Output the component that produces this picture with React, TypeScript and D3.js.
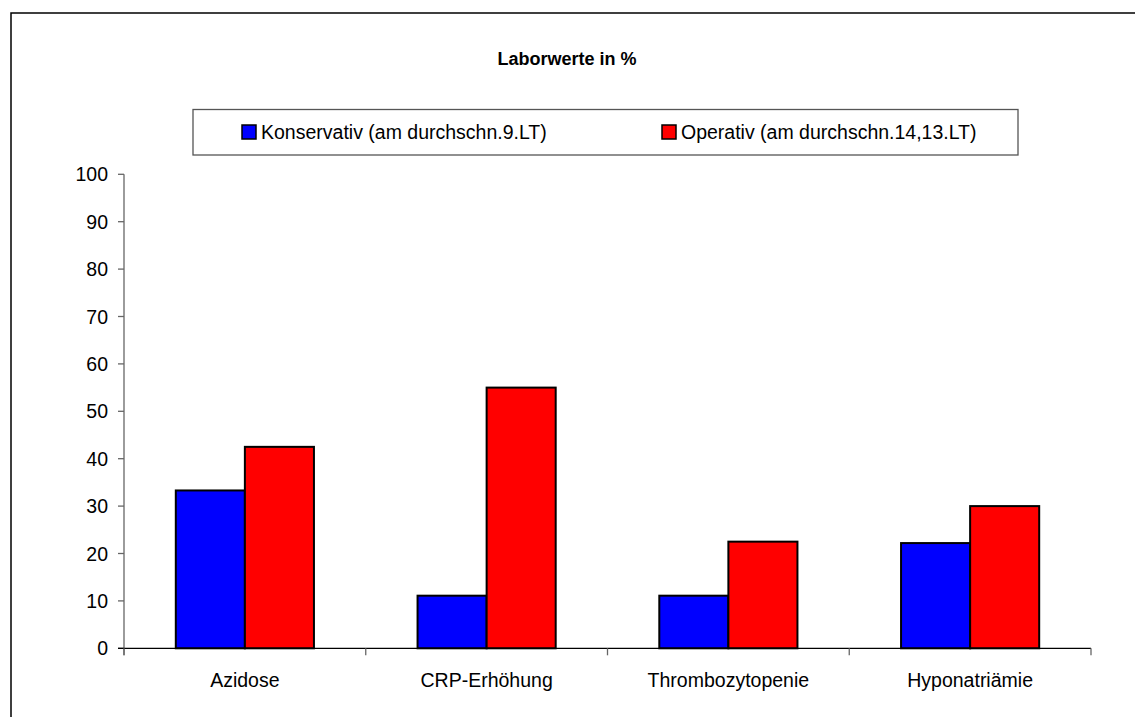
import React from "react";
import * as d3 from "d3";

const categories = ["Azidose", "CRP-Erhöhung", "Thrombozytopenie", "Hyponatriämie"];
const seriesNames = ["Konservativ (am durchschn.9.LT)", "Operativ (am durchschn.14,13.LT)"];
const konservativ = [33.3, 11.1, 11.1, 22.2];
const operativ = [42.5, 55.0, 22.5, 30.0];
const yTicks = [0, 10, 20, 30, 40, 50, 60, 70, 80, 90, 100];
const colors = ["#0000FF", "#FF0000"];
const title = "Laborwerte in %";

const W = 1135;
const H = 717;
const left = 124;
const right = 1091;
const top = 174.3;
const bottom = 648.3;
const FONT = "'Liberation Sans', Arial, sans-serif";

export default function App() {
  const x = d3.scaleBand<string>().domain(categories).range([left, right]).paddingInner(0).paddingOuter(0);
  const y = d3.scaleLinear().domain([0, 100]).range([bottom, top]);
  const bw = x.bandwidth() / 3.5;
  const series = [konservativ, operativ];
  const boundaries = [left, ...categories.map((c) => (x(c) as number) + x.bandwidth())];

  return (
    <div style={{ position: "absolute", left: 0, top: 0 }}>
      <svg width={W} height={H} style={{ display: "block" }}>
        <rect x={0} y={0} width={W} height={H} fill="#fff" />
        <path d={`M11,${H + 5}V13H${W + 5}`} fill="none" stroke="#000" strokeWidth={1.5} />
        <text x={567} y={65} textAnchor="middle" fontFamily={FONT} fontWeight="bold" fontSize={18} fill="#000">
          {title}
        </text>
        {/* legend */}
        <rect x={193} y={109.5} width={825} height={45.5} fill="#fff" stroke="#555" strokeWidth={1.3} />
        {seriesNames.map((name, i) => {
          const lx = i === 0 ? 242 : 662;
          return (
            <g key={name}>
              <rect x={lx} y={125} width={14} height={14} fill={colors[i]} stroke="#000" strokeWidth={1.5} />
              <text x={lx + 19} y={139} fontFamily={FONT} fontSize={19.5} fill="#000">
                {name}
              </text>
            </g>
          );
        })}
        {/* y axis */}
        <line x1={left} x2={left} y1={top} y2={bottom + 7} stroke="#666" strokeWidth={1.3} />
        {yTicks.map((t) => (
          <g key={t}>
            <line x1={left - 6} x2={left} y1={y(t)} y2={y(t)} stroke="#666" strokeWidth={1.3} />
            <text x={108} y={y(t)} dy="0.36em" textAnchor="end" fontFamily={FONT} fontSize={19.5} fill="#000">
              {t}
            </text>
          </g>
        ))}
        {/* bars */}
        {categories.map((c, ci) => {
          const cx = (x(c) as number) + x.bandwidth() / 2;
          return series.map((s, si) => (
            <rect
              key={c + si}
              x={cx - bw + si * bw}
              y={y(s[ci])}
              width={bw}
              height={y(0) - y(s[ci])}
              fill={colors[si]}
              stroke="#000"
              strokeWidth={2}
            />
          ));
        })}
        {/* x axis */}
        <line x1={left - 6} x2={right} y1={bottom} y2={bottom} stroke="#000" strokeWidth={1.3} />
        {boundaries.map((b, i) => (
          <line key={i} x1={b} x2={b} y1={bottom} y2={bottom + 7} stroke="#666" strokeWidth={1.3} />
        ))}
        {categories.map((c) => (
          <text
            key={c}
            x={(x(c) as number) + x.bandwidth() / 2}
            y={687}
            textAnchor="middle"
            fontFamily={FONT}
            fontSize={19.5}
            fill="#000"
          >
            {c}
          </text>
        ))}
      </svg>
    </div>
  );
}
